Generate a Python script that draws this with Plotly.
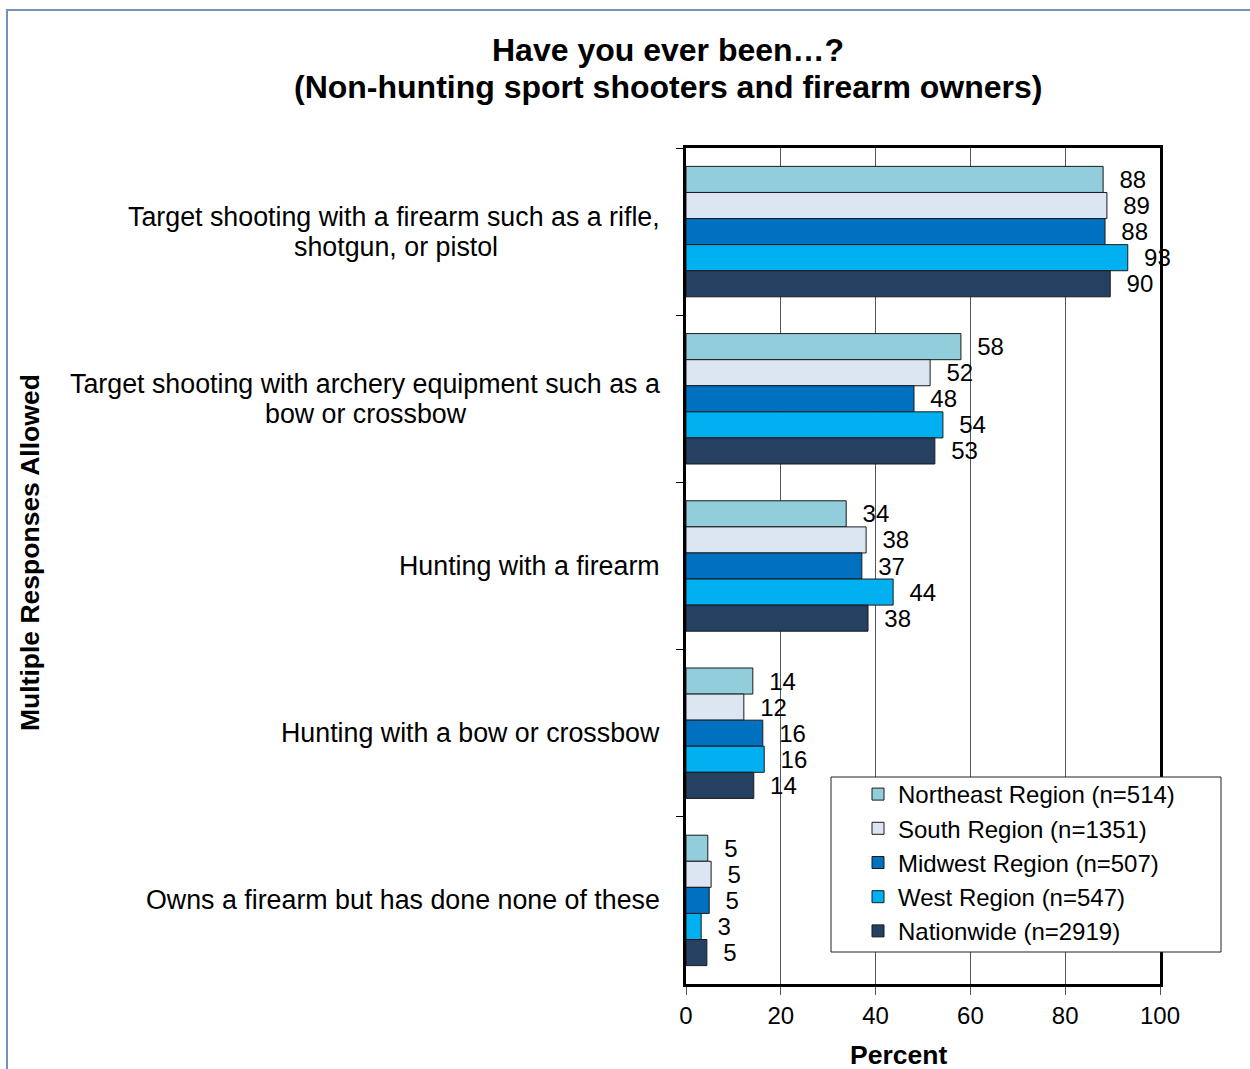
import plotly.graph_objects as go

categories = [
    "Target shooting with a firearm such as a rifle,<br>shotgun, or pistol",
    "Target shooting with archery equipment such as a<br>bow or crossbow",
    "Hunting with a firearm",
    "Hunting with a bow or crossbow",
    "Owns a firearm but has done none of these",
]
series_names = [
    "Northeast Region (n=514)",
    "South Region (n=1351)",
    "Midwest Region (n=507)",
    "West Region (n=547)",
    "Nationwide (n=2919)",
]
northeast = [88.0, 58.0, 33.8, 14.1, 4.6]
south = [88.8, 51.5, 38.0, 12.2, 5.3]
midwest = [88.4, 48.1, 37.1, 16.2, 4.9]
west = [93.2, 54.2, 43.7, 16.5, 3.2]
nationwide = [89.5, 52.5, 38.4, 14.3, 4.4]

northeast_lbl = ["88", "58", "34", "14", "5"]
south_lbl = ["89", "52", "38", "12", "5"]
midwest_lbl = ["88", "48", "37", "16", "5"]
west_lbl = ["93", "54", "44", "16", "3"]
nationwide_lbl = ["90", "53", "38", "14", "5"]

title_lines = ["Have you ever been…?", "(Non-hunting sport shooters and firearm owners)"]

colors = ["#92CDDC", "#DCE6F2", "#0070C0", "#00B0F0", "#254061"]
x_ticks = [0, 20, 40, 60, 80, 100]

FONT = "Liberation Sans, Arial, sans-serif"

fig = go.Figure()
all_vals = [northeast, south, midwest, west, nationwide]
all_lbls = [northeast_lbl, south_lbl, midwest_lbl, west_lbl, nationwide_lbl]
for i, (name, vals, lbls) in enumerate(zip(series_names, all_vals, all_lbls)):
    fig.add_trace(go.Bar(
        y=categories, x=vals, name=name, orientation="h",
        marker=dict(color=colors[i], line=dict(color="#1a1a1a", width=1)),
        text=lbls, texttemplate="  %{text}", textposition="outside",
        textfont=dict(size=24, color="black", family=FONT),
        cliponaxis=False, constraintext="none",
        legendgroup=f"g{i}",
    ))

W0, H0, X0, X1, Y0, Y1 = 1250, 1069, 686, 1160, 148, 984
pw, ph = X1 - X0, Y1 - Y0

def px_x(p):
    return (p - X0) / pw

def px_y(p):
    return (Y1 - p) / ph

annotations = []
LINE = 30
# pixel centre of wrapped label continuation lines (visual centre of the first line)
cont_centers = {0: 396, 1: 366}
for ci, c in enumerate(categories):
    parts = c.split("<br>")
    n = len(parts)
    for k, part in enumerate(parts):
        if k == 0:
            ax, anch = px_x(662), "right"
        else:
            ax, anch = px_x(cont_centers[ci]), "center"
        annotations.append(dict(
            x=ax, xref="paper", y=c, yref="y", text=part, showarrow=False,
            xanchor=anch, yanchor="middle",
            yshift=((n - 1) / 2 - k) * LINE,
            font=dict(size=26.8, color="black", family=FONT)))

for k, t in enumerate(title_lines):
    annotations.append(dict(
        x=px_x(668), xref="paper", y=px_y([50, 87][k]), yref="paper",
        text=f"<b>{t}</b>", showarrow=False, xanchor="center", yanchor="middle",
        font=dict(size=32, color="black", family=FONT)))

annotations.append(dict(
    x=px_x(30), xref="paper", y=px_y(553), yref="paper",
    text="<b>Multiple Responses Allowed</b>", textangle=-90, showarrow=False,
    xanchor="center", yanchor="middle", font=dict(size=26.5, color="black", family=FONT)))
annotations.append(dict(
    x=px_x(898), xref="paper", y=px_y(1055), yref="paper",
    text="<b>Percent</b>", showarrow=False, xanchor="center", yanchor="middle",
    font=dict(size=26.5, color="black", family=FONT)))

shapes = [
    dict(type="rect", xref="paper", yref="paper",
         x0=px_x(7), x1=px_x(1300), y0=px_y(1100), y1=px_y(10),
         line=dict(color="#7393b7", width=2), layer="below"),
    dict(type="rect", xref="paper", yref="paper",
         x0=px_x(831), x1=px_x(1221), y0=px_y(952), y1=px_y(777),
         line=dict(color="#222222", width=1), fillcolor="white", layer="above"),
]

fig.update_layout(
    width=W0, height=H0,
    margin=dict(l=X0, r=W0 - X1, t=Y0, b=H0 - Y1, autoexpand=False),
    paper_bgcolor="white", plot_bgcolor="white",
    font=dict(family=FONT, color="black"),
    barmode="group", bargap=0.22, bargroupgap=0,
    showlegend=True,
    legend=dict(
        x=px_x(858), y=px_y(772), xanchor="left", yanchor="top",
        xref="paper", yref="paper",
        bgcolor="rgba(0,0,0,0)", borderwidth=0,
        font=dict(size=24, color="black", family=FONT),
        tracegroupgap=6, traceorder="normal",
    ),
    xaxis=dict(
        range=[0, 100], tickvals=x_ticks, ticktext=[str(v) for v in x_ticks],
        showgrid=True, gridcolor="#555555", gridwidth=1,
        ticks="outside", ticklen=8, tickcolor="#555555", tickwidth=1,
        tickfont=dict(size=24, color="black", family=FONT),
        showline=True, linecolor="black", linewidth=3, mirror=True,
        zeroline=False, fixedrange=True,
    ),
    yaxis=dict(
        categoryorder="array", categoryarray=categories, autorange="reversed",
        tickson="boundaries", ticks="outside", ticklen=7, tickcolor="black", tickwidth=1,
        showticklabels=False, showgrid=False,
        showline=True, linecolor="black", linewidth=3, mirror=True,
    ),
    annotations=annotations, shapes=shapes,
)

fig.write_html("out.html")
